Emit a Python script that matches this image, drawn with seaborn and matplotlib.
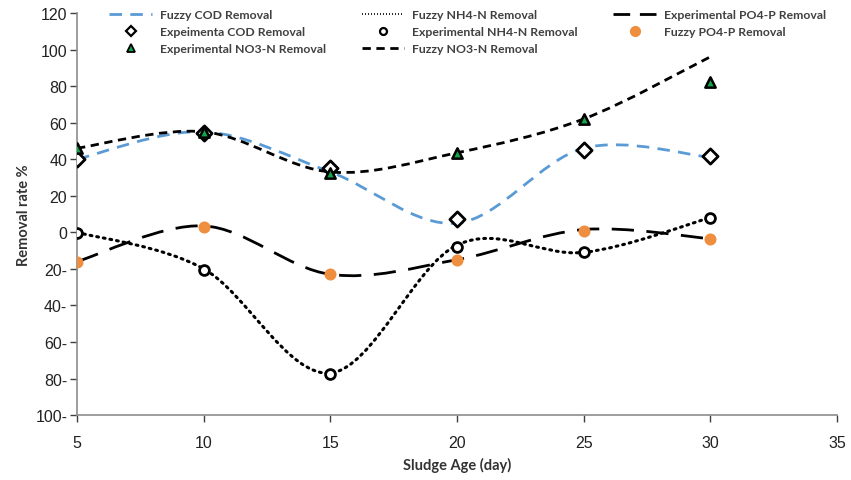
import numpy as np
import pandas as pd
import seaborn as sns
import matplotlib
matplotlib.use("Agg")
import matplotlib.pyplot as plt
from matplotlib.path import Path
from matplotlib.patches import PathPatch
from matplotlib.lines import Line2D

# sludge age (day)
sludge_age = [5, 10, 15, 20, 25, 30]

# removal rate %
fuzzy_cod = [40, 55, 33, 5, 46, 41]
exp_cod = [40, 54.5, 35, 7, 45, 42]
fuzzy_nh4 = [0, -20, -77, -7, -11, 8]
exp_nh4 = [-0.5, -20.5, -77.5, -8, -11, 8]
exp_po4 = [-16, 3.5, -23, -15, 1.5, -3.5]
fuzzy_po4 = [-16, 3, -23, -15, 0.5, -3.5]
fuzzy_no3 = [46, 55, 33, 43.5, 62, 96]
exp_no3 = [46, 55, 32.5, 43.5, 62, 82]

y_ticks = [120, 100, 80, 60, 40, 20, 0, -20, -40, -60, -80, -100]
y_ticklabels = ["120", "100", "80", "60", "40", "20", "0",
                "20-", "40-", "60-", "80-", "100-"]
x_ticks = [5, 10, 15, 20, 25, 30, 35]

blue = "#5b9bd5"
orange = "#ee8e3e"
green = "#11a64a"


def smooth_path(xs, ys):
    # Excel-style smoothed line drawn as cubic bezier segments
    pts = np.column_stack([xs, ys]).astype(float)
    n = len(pts)
    verts = [pts[0]]
    codes = [Path.MOVETO]
    for i in range(n - 1):
        p0 = pts[max(i - 1, 0)]
        p1 = pts[i]
        p2 = pts[i + 1]
        p3 = pts[min(i + 2, n - 1)]
        c1 = p1 + (p2 - p0) / 6.0
        c2 = p2 - (p3 - p1) / 6.0
        verts += [c1, c2, p2]
        codes += [Path.CURVE4] * 3
    return Path(verts, codes)


def add_curve(ax, xs, ys, **kw):
    patch = PathPatch(smooth_path(xs, ys), fill=False, zorder=2, **kw)
    ax.add_patch(patch)


sns.set_style("white")
plt.rcParams['font.family'] = ['Liberation Sans', 'DejaVu Sans']

fig = plt.figure(figsize=(8.51, 4.81), dpi=100)
ax = fig.add_axes([0.0905, 0.135, 0.893, 0.836])

add_curve(ax, sludge_age, fuzzy_cod, edgecolor=blue, lw=2.0, linestyle=(0, (4.5, 3)))
add_curve(ax, sludge_age, fuzzy_nh4, edgecolor="black", lw=2.2, linestyle=(0, (0.6, 1.6)),
          capstyle="round")
add_curve(ax, sludge_age, exp_po4, edgecolor="black", lw=2.0, linestyle=(0, (8, 4.5)))
add_curve(ax, sludge_age, fuzzy_no3, edgecolor="black", lw=2.0, linestyle=(0, (3, 2)))

df = pd.DataFrame({"x": sludge_age, "cod": exp_cod, "nh4": exp_nh4,
                   "po4": fuzzy_po4, "no3": exp_no3})
sns.scatterplot(data=df, x="x", y="cod", marker="D", s=60, facecolor="white",
                edgecolor="black", linewidth=2, ax=ax, zorder=3)
sns.scatterplot(data=df, x="x", y="nh4", marker="o", s=50, facecolor="white",
                edgecolor="black", linewidth=2, ax=ax, zorder=3)
sns.scatterplot(data=df, x="x", y="po4", marker="o", s=75, color=orange,
                edgecolor=orange, linewidth=0, ax=ax, zorder=3)
sns.scatterplot(data=df, x="x", y="no3", marker="^", s=55, facecolor=green,
                edgecolor="black", linewidth=1.8, ax=ax, zorder=4)

ax.set_xlim(5, 35)
ax.set_ylim(-100, 120)
ax.set_xticks(x_ticks)
ax.set_yticks(y_ticks)
ax.set_yticklabels(y_ticklabels)
ax.tick_params(axis="both", labelsize=11.5, colors="#404040", length=5, width=1,
               direction="out", left=True, bottom=True)
for lab in ax.get_xticklabels() + ax.get_yticklabels():
    lab.set_color("#222222")
for side in ["top", "right"]:
    ax.spines[side].set_visible(False)
for side in ["left", "bottom"]:
    ax.spines[side].set_color("#8c8c8c")
    ax.spines[side].set_linewidth(1.2)
ax.tick_params(axis="x", pad=9)
ax.tick_params(axis="y", pad=2)

ax.set_xlabel("Sludge Age (day)", fontsize=10.5, fontweight="bold",
              family=["Lato", "DejaVu Sans"], color="#333333", labelpad=5)
ax.set_ylabel("Removal rate %", fontsize=10.5, fontweight="bold",
              family=["Lato", "DejaVu Sans"], color="#333333", labelpad=3)

handles = [
    Line2D([], [], color=blue, lw=2, linestyle=(0, (4.5, 3))),
    Line2D([], [], marker="D", color="none", markerfacecolor="white",
           markeredgecolor="black", markeredgewidth=1.6, markersize=5),
    Line2D([], [], marker="^", color="none", markerfacecolor=green,
           markeredgecolor="black", markeredgewidth=1.3, markersize=6),
    Line2D([], [], color="black", lw=1.2, linestyle=(0, (0.6, 1.2))),
    Line2D([], [], marker="o", color="none", markerfacecolor="white",
           markeredgecolor="black", markeredgewidth=1.6, markersize=5),
    Line2D([], [], color="black", lw=2, linestyle=(0, (3, 2))),
    Line2D([], [], color="black", lw=2, linestyle=(0, (6, 3.5))),
    Line2D([], [], marker="o", color="none", markerfacecolor=orange,
           markeredgecolor=orange, markersize=7),
]
labels = [
    "Fuzzy COD Removal", "Expeimenta COD Removal", "Experimental NO3-N Removal",
    "Fuzzy NH4-N Removal", "Experimental NH4-N Removal", "Fuzzy NO3-N Removal",
    "Experimental PO4-P Removal", "Fuzzy PO4-P Removal",
]
leg = ax.legend(handles, labels, ncol=3, loc="upper left",
                bbox_to_anchor=(0.028, 1.037), frameon=False,
                prop={"family": ["Lato", "DejaVu Sans"], "weight": "bold", "size": 8.8},
                handlelength=3.5, columnspacing=2.9, labelspacing=0.5,
                handletextpad=0.65)
for t in leg.get_texts():
    t.set_color("#404040")

fig.savefig("out.png", dpi=100)
